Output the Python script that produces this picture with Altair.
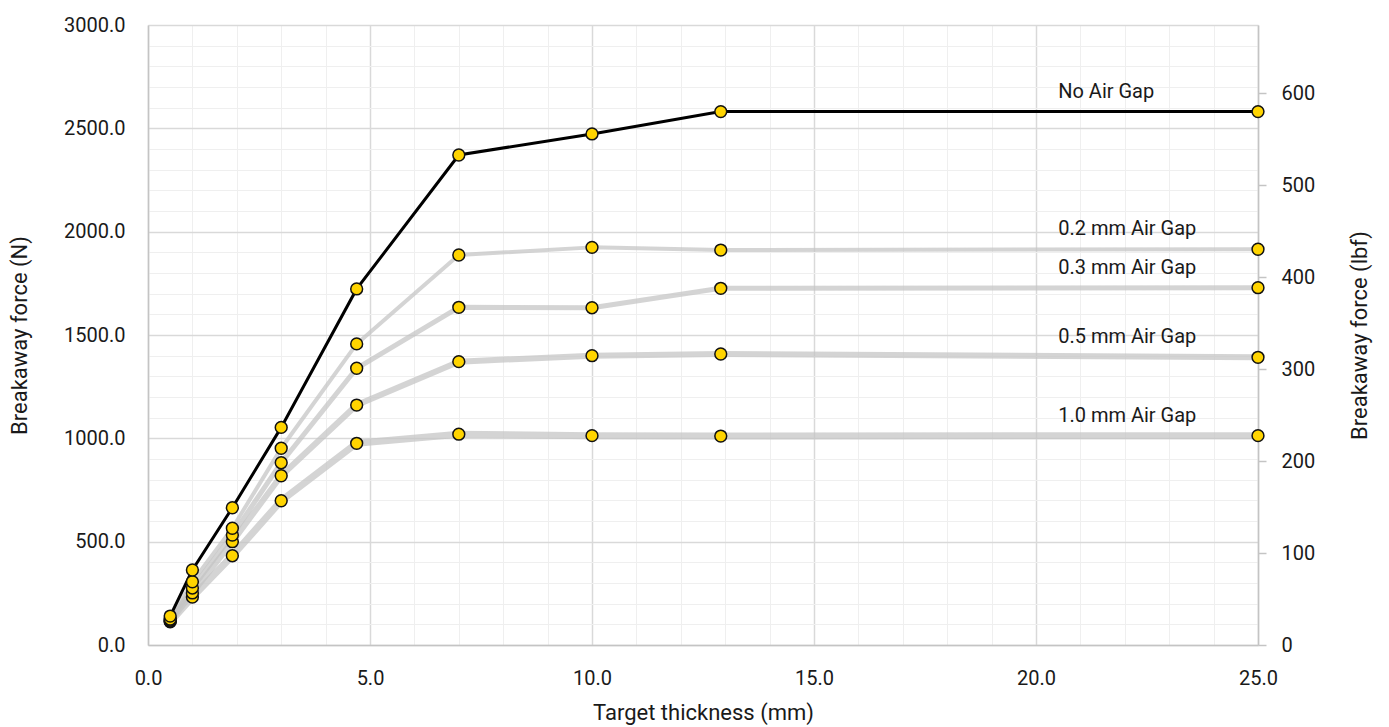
import altair as alt
import pandas as pd

# ---- data ----
thickness = [0.5, 1.0, 1.9, 3.0, 4.7, 7.0, 10.0, 12.9, 25.0]
series_names = ["No Air Gap", "0.2 mm Air Gap", "0.3 mm Air Gap", "0.5 mm Air Gap", "1.0 mm Air Gap"]
no_gap = [140, 363, 664, 1053, 1723, 2371, 2473, 2581, 2581]
gap_02 = [125, 306, 565, 952, 1457, 1887, 1924, 1911, 1915]
gap_03 = [120, 276, 532, 882, 1339, 1634, 1632, 1726, 1729]
gap_05 = [116, 252, 500, 819, 1161, 1371, 1400, 1408, 1392]
gap_10 = [112, 232, 432, 698, 976, 1020, 1013, 1011, 1013]
N_PER_LBF = 4.44822

values_by_series = dict(zip(series_names, [no_gap, gap_02, gap_03, gap_05, gap_10]))
draw_order = ["1.0 mm Air Gap", "0.5 mm Air Gap", "0.3 mm Air Gap", "0.2 mm Air Gap", "No Air Gap"]

rows = []
for k, name in enumerate(draw_order):
    for t, v in zip(thickness, values_by_series[name]):
        rows.append({"series": name, "thickness": t, "force": v, "draw": k})
df = pd.DataFrame(rows)
df_gray = df[df.series != "No Air Gap"]
df_black = df[df.series == "No Air Gap"]
df_last = df[df.thickness == thickness[-1]]

FONT = "Roboto"
TXT = "#1a1a1a"
DOMAIN = "#c4c4c4"

major_minor_x = {"condition": {"test": "datum.value % 5 === 0", "value": "#d9d9d9"}, "value": "#efefef"}
major_minor_xw = {"condition": {"test": "datum.value % 5 === 0", "value": 1.5}, "value": 1}
major_minor_y = {"condition": {"test": "datum.value % 500 === 0", "value": "#d9d9d9"}, "value": "#efefef"}
major_minor_yw = {"condition": {"test": "datum.value % 500 === 0", "value": 1.5}, "value": 1}

x_enc = alt.X(
    "thickness:Q",
    scale=alt.Scale(domain=[0, 25], nice=False),
    axis=alt.Axis(
        title="Target thickness (mm)",
        values=list(range(0, 26)),
        labelExpr="datum.value % 5 === 0 ? format(datum.value, '.1f') : ''",
        labelOverlap=False,
        labelFlush=False,
        ticks=False,
        domainColor=DOMAIN,
        domainWidth=1.5,
        gridColor=major_minor_x,
        gridWidth=major_minor_xw,
        labelPadding=23,
        titlePadding=14,
    ),
)
y_enc = alt.Y(
    "force:Q",
    scale=alt.Scale(domain=[0, 3000], nice=False),
    axis=alt.Axis(
        title="Breakaway force (N)",
        values=list(range(0, 3001, 100)),
        labelExpr="datum.value % 500 === 0 ? format(datum.value, '.1f') : ''",
        labelOverlap=False,
        labelFlush=False,
        ticks=False,
        domainColor=DOMAIN,
        domainWidth=1.5,
        gridColor=major_minor_y,
        gridWidth=major_minor_yw,
        labelPadding=23,
        titlePadding=32,
    ),
)

gray_lines = alt.Chart(df_gray).mark_line(strokeJoin="round", color="#c4c4c4", opacity=0.72).encode(
    x=x_enc,
    y=y_enc,
    detail="series:N",
    strokeWidth=alt.StrokeWidth(
        "series:N",
        scale=alt.Scale(domain=series_names[1:], range=[4, 7, 10, 12]),
        legend=None,
    ),
)

black_line = alt.Chart(df_black).mark_line(color="#000000", strokeWidth=3).encode(x=x_enc, y=y_enc)

points = alt.Chart(df).mark_circle(
    color="#FFD400", opacity=1, stroke="#111111", strokeWidth=1.5, size=140
).encode(x=x_enc, y=y_enc, order=alt.Order("draw:Q"))

labels = alt.Chart(df_last).mark_text(
    align="left", baseline="middle", dy=-20, font=FONT, fontSize=20, color=TXT
).encode(x=alt.datum(20.5), y=y_enc, text="series:N")

left = alt.layer(gray_lines, black_line, points, labels)

right = alt.Chart(df_black).transform_calculate(
    lbf=f"datum.force / {N_PER_LBF}"
).mark_point(opacity=0).encode(
    x=x_enc,
    y=alt.Y(
        "lbf:Q",
        scale=alt.Scale(domain=[0, 3000 / N_PER_LBF], nice=False),
        axis=alt.Axis(
            orient="right",
            title="Breakaway force (lbf)",
            titleAngle=270,
            values=list(range(0, 601, 100)),
            format="d",
            grid=False,
            ticks=True,
            tickSize=8,
            tickColor=DOMAIN,
            tickWidth=1.5,
            domainColor=DOMAIN,
            domainWidth=1.5,
            labelPadding=15,
            labelFlush=False,
            titlePadding=57,
        ),
    ),
)

chart = (
    alt.layer(left, right)
    .resolve_scale(y="independent")
    .properties(
        width=1110,
        height=620,
        autosize=alt.AutoSizeParams(type="none"),
        padding={"left": 140, "top": 17, "right": 123, "bottom": 80},
    )
    .configure_view(stroke=None)
    .configure_axis(
        labelFont=FONT,
        titleFont=FONT,
        labelFontSize=20,
        titleFontSize=22,
        labelColor=TXT,
        titleColor=TXT,
        titleFontWeight="normal",
    )
)

chart.save("out.html", embed_options={"renderer": "svg", "actions": False})
